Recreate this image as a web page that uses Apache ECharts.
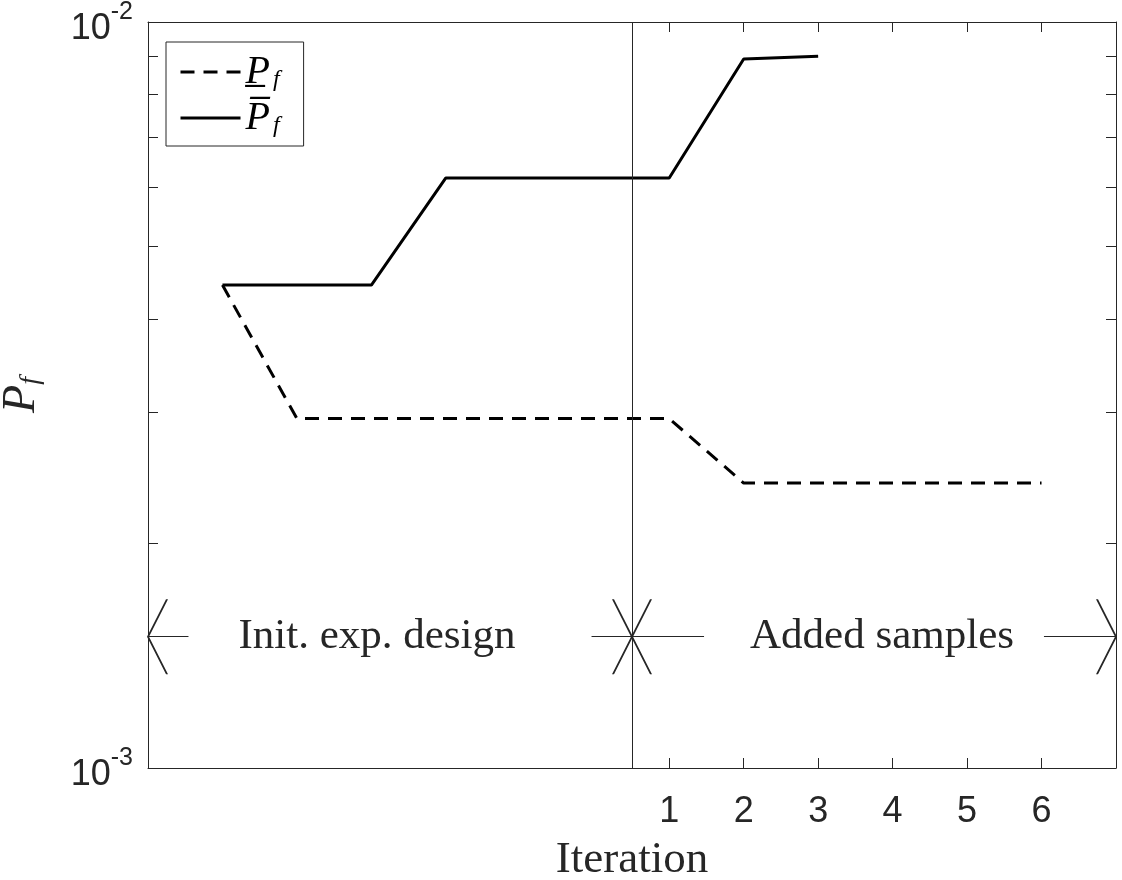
<!DOCTYPE html>
<html>
<head>
<meta charset="utf-8">
<script src="https://cdn.jsdelivr.net/npm/echarts@6/dist/echarts.min.js"></script>
<style>
  html, body { margin: 0; padding: 0; background: #fff; }
  #chart { width: 1122px; height: 880px; }
</style>
</head>
<body>
<div id="chart"></div>
<script>
// iterations: negative ones belong to the initial experimental design
const upperIter = [-5, -4, -3, -2, -1, 0, 1, 2, 3];
const upperPf = [4.44e-3, 4.44e-3, 4.44e-3, 6.18e-3, 6.18e-3, 6.18e-3, 6.18e-3, 8.92e-3, 9.0e-3];
const lowerIter = [-5, -4, -3, -2, -1, 0, 1, 2, 3, 4, 5, 6];
const lowerPf = [4.44e-3, 2.94e-3, 2.94e-3, 2.94e-3, 2.94e-3, 2.94e-3, 2.94e-3, 2.41e-3, 2.41e-3, 2.41e-3, 2.41e-3, 2.41e-3];
const xTickValues = [1, 2, 3, 4, 5, 6];
const yMinorTicks = [0.001, 0.002, 0.003, 0.004, 0.005, 0.006, 0.007, 0.008, 0.009, 0.01];
const yLabelValues = [0.001, 0.01];
const splitIter = 0.5;
const arrowPf = 1.5e-3;
const phaseNames = ["Init. exp. design", "Added samples"];
const phaseFrom = [-6, 0.5];
const phaseTo = [0.5, 7];

const textColor = "#262626";
const serif = "'Liberation Serif', 'DejaVu Serif', serif";
const sans = "'Liberation Sans', Arial, sans-serif";
// white box behind each phase label, uneven so the text sits like the original
const phasePadding = [[6, 76, 6, 50], [6, 30, 6, 46]];
// open V arrow head, tip at the symbol centre
const vHead = "path://M0,0 L37.5,19 L37.5,21 L0,2 L-37.5,21 L-37.5,19 Z M0,-19 L0.01,-19 L0,-18.99 Z";

const chart = echarts.init(document.getElementById("chart"));

// "10" sits a bit below the tick, the exponent above it
const yLabel = {
  customValues: yLabelValues,
  color: textColor,
  margin: 15,
  formatter: (v) => "{b|10}{e|" + Math.round(Math.log10(v)) + "}",
  rich: {
    b: { fontSize: 36, fontFamily: sans, color: textColor, lineHeight: 50, verticalAlign: "bottom" },
    e: { fontSize: 25, fontFamily: sans, color: textColor, lineHeight: 20, padding: [3, 0, 0, 0], verticalAlign: "top" },
  },
};

const option = {
  animation: false,
  grid: { left: 148, right: 6, top: 22, bottom: 112, containLabel: false, outerBoundsMode: "none" },
  legend: {
    left: 166,
    top: 42,
    orient: "vertical",
    backgroundColor: "#fff",
    borderColor: textColor,
    borderWidth: 1,
    borderRadius: 0,
    padding: [10, 24, 8, 13],
    itemWidth: 60,
    itemHeight: 14,
    itemGap: 6,
    itemStyle: { color: "transparent", borderWidth: 0, opacity: 0 },
    lineStyle: { width: 3 },
    data: ["lower", "upper"],
    formatter: (name) => (name === "lower" ? "{p|P\u0332}{s|f}" : "{p|P\u0305}{s|f}"),
    textStyle: {
      color: "#000",
      rich: {
        p: { fontSize: 40, fontStyle: "italic", fontFamily: serif, lineHeight: 40 },
        s: { fontSize: 24, fontStyle: "italic", fontFamily: serif, lineHeight: 14, padding: [0, 0, 0, 3], verticalAlign: "bottom" },
      },
    },
  },
  xAxis: [
    {
      type: "value",
      min: -6,
      max: 7,
      interval: 1,
      name: "Iteration",
      nameLocation: "middle",
      nameGap: 70,
      nameTextStyle: { fontFamily: serif, fontSize: 45, color: textColor },
      axisLine: { onZero: false, lineStyle: { color: textColor, width: 1 } },
      axisTick: { inside: true, length: 10, customValues: xTickValues, lineStyle: { color: textColor } },
      axisLabel: { customValues: xTickValues, fontSize: 36, fontFamily: sans, color: textColor, margin: 26 },
      splitLine: { show: false },
    },
    {
      type: "value",
      position: "top",
      min: -6,
      max: 7,
      interval: 1,
      axisLine: { onZero: false, lineStyle: { color: textColor, width: 1 } },
      axisTick: { inside: true, length: 10, customValues: xTickValues, lineStyle: { color: textColor } },
      axisLabel: { show: false },
      splitLine: { show: false },
    },
  ],
  yAxis: [
    {
      type: "log",
      logBase: 10,
      min: 0.001,
      max: 0.01,
      name: "{p|P}{s|f}",
      nameLocation: "middle",
      nameRotate: 90,
      nameGap: 103,
      nameTextStyle: {
        rich: {
          p: { fontSize: 46, fontStyle: "italic", fontFamily: serif, color: textColor, lineHeight: 46 },
          s: { fontSize: 28, fontStyle: "italic", fontFamily: serif, color: textColor, lineHeight: 16, verticalAlign: "bottom" },
        },
      },
      axisLine: { onZero: false, lineStyle: { color: textColor, width: 1 } },
      axisTick: { inside: true, length: 10, customValues: yMinorTicks, lineStyle: { color: textColor } },
      axisLabel: yLabel,
      splitLine: { show: false },
    },
    {
      type: "log",
      logBase: 10,
      min: 0.001,
      max: 0.01,
      position: "right",
      axisLine: { onZero: false, lineStyle: { color: textColor, width: 1 } },
      axisTick: { inside: true, length: 10, customValues: yMinorTicks, lineStyle: { color: textColor } },
      axisLabel: { show: false },
      splitLine: { show: false },
    },
  ],
  series: [
    {
      name: "lower",
      type: "line",
      symbol: "none",
      data: lowerIter.map((x, i) => [x, lowerPf[i]]),
      lineStyle: { color: "#000", width: 3, type: [14, 9] },
      itemStyle: { color: "#000" },
      z: 3,
    },
    {
      name: "upper",
      type: "line",
      symbol: "none",
      data: upperIter.map((x, i) => [x, upperPf[i]]),
      lineStyle: { color: "#000", width: 3 },
      itemStyle: { color: "#000" },
      z: 3,
    },
    {
      // phase split line and arrows
      name: "phases",
      type: "line",
      data: [],
      markLine: {
        silent: true,
        animation: false,
        lineStyle: { color: textColor, width: 1, type: "solid" },
        data: [
          [
            { xAxis: splitIter, yAxis: 0.001, symbol: "none" },
            { xAxis: splitIter, yAxis: 0.01, symbol: "none" },
          ],
          ...phaseNames.map((name, i) => [
            {
              coord: [phaseFrom[i], arrowPf],
              symbol: vHead,
              symbolSize: [75, 40],
              label: {
                show: true,
                position: "middle",
                verticalAlign: "middle",
                formatter: name,
                fontFamily: serif,
                fontSize: 43,
                color: textColor,
                backgroundColor: "#fff",
                padding: phasePadding[i],
                distance: 0,
              },
            },
            { coord: [phaseTo[i], arrowPf], symbol: vHead, symbolSize: [75, 40] },
          ]),
        ],
      },
    },
  ],
};

chart.setOption(option);
</script>
</body>
</html>
